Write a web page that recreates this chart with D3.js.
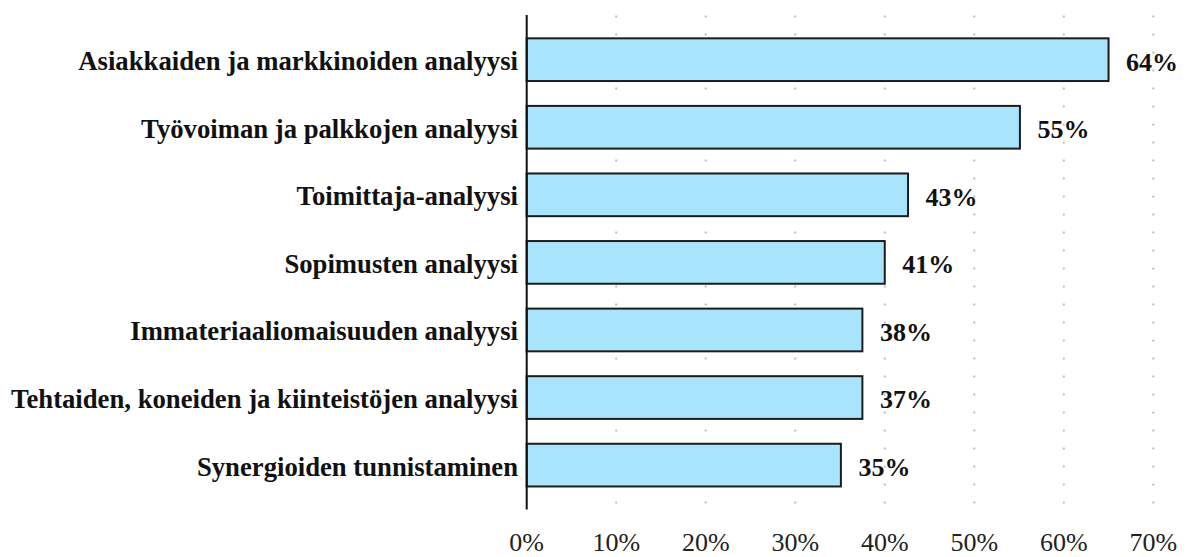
<!DOCTYPE html>
<html>
<head>
<meta charset="utf-8">
<script src="https://cdn.jsdelivr.net/npm/d3@7"></script>
<style>
  html, body { margin: 0; padding: 0; background: #fff; }
  svg { display: block; }
</style>
</head>
<body>
<svg id="chart" width="1192" height="557"></svg>
<script>
const categories = [
  "Asiakkaiden ja markkinoiden analyysi",
  "Työvoiman ja palkkojen analyysi",
  "Toimittaja-analyysi",
  "Sopimusten analyysi",
  "Immateriaaliomaisuuden analyysi",
  "Tehtaiden, koneiden ja kiinteistöjen analyysi",
  "Synergioiden tunnistaminen"
];
const values = [0.65, 0.551, 0.426, 0.40, 0.375, 0.375, 0.351];
const valueLabels = ["64%", "55%", "43%", "41%", "38%", "37%", "35%"];
const ticks = [0, 0.1, 0.2, 0.3, 0.4, 0.5, 0.6, 0.7];
const tickLabels = ["0%", "10%", "20%", "30%", "40%", "50%", "60%", "70%"];

const svg = d3.select("#chart");
const font = "'Liberation Serif', 'Times New Roman', serif";

const x = d3.scaleLinear().domain([0, 0.7]).range([526.7, 1153.3]);
const y = d3.scaleBand().domain(categories).range([25.9, 498.9])
  .paddingInner(0.368).paddingOuter(0.184);

// dotted gridlines
svg.append("g").selectAll("line").data(ticks.slice(1)).join("line")
  .attr("x1", d => x(d)).attr("x2", d => x(d))
  .attr("y1", 15.5).attr("y2", 510)
  .attr("stroke", "#bdbdbd").attr("stroke-width", 2)
  .attr("stroke-dasharray", "2,16");

// bars
svg.append("g").selectAll("rect").data(categories).join("rect")
  .attr("x", x(0))
  .attr("y", d => y(d))
  .attr("width", (d, i) => x(values[i]) - x(0))
  .attr("height", y.bandwidth())
  .attr("fill", "#a8e5fd")
  .attr("stroke", "#1c1c1c")
  .attr("stroke-width", 2);

// y axis line
svg.append("line")
  .attr("x1", x(0)).attr("x2", x(0))
  .attr("y1", 15).attr("y2", 509.5)
  .attr("stroke", "#111").attr("stroke-width", 2);

// category labels
svg.append("g").selectAll("text").data(categories).join("text")
  .attr("x", 518)
  .attr("y", d => y(d) + y.bandwidth() / 2)
  .attr("dy", "0.39em")
  .attr("text-anchor", "end")
  .attr("font-family", font)
  .attr("font-weight", "bold")
  .attr("font-size", 26.7)
  .attr("fill", "#111")
  .text(d => d);

// value labels
svg.append("g").selectAll("text").data(categories).join("text")
  .attr("x", (d, i) => x(values[i]) + 17.5)
  .attr("y", d => y(d) + y.bandwidth() / 2)
  .attr("dy", "0.42em")
  .attr("font-family", font)
  .attr("font-weight", "bold")
  .attr("font-size", 26)
  .attr("fill", "#111")
  .text((d, i) => valueLabels[i]);

// x tick labels
svg.append("g").selectAll("text").data(ticks).join("text")
  .attr("x", d => x(d))
  .attr("y", 551)
  .attr("text-anchor", "middle")
  .attr("font-family", font)
  .attr("font-size", 26)
  .attr("fill", "#222")
  .text((d, i) => tickLabels[i]);
</script>
</body>
</html>
